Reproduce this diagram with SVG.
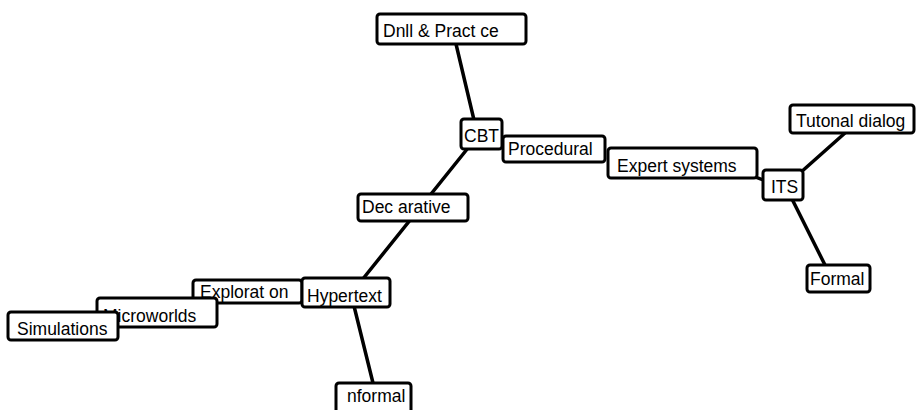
<svg xmlns="http://www.w3.org/2000/svg" width="916" height="410" viewBox="0 0 916 410">
  <style>
    .box { fill: #fff; stroke: #000; stroke-width: 3; }
    .lbl { font-family: "Liberation Sans", Arial, sans-serif; font-size: 17.5px; fill: #000; }
    .edge { stroke: #000; stroke-width: 3.5; fill: none; stroke-linecap: round; }
  </style>
  <rect width="916" height="410" fill="#fff"/>
  <g id="connectors">
    <line class="edge" x1="456" y1="44" x2="474" y2="120"/>
    <line class="edge" x1="468" y1="148" x2="362" y2="280"/>
    <line class="edge" x1="742" y1="172" x2="766" y2="181"/>
    <line class="edge" x1="800" y1="173" x2="845" y2="133"/>
    <line class="edge" x1="792" y1="199" x2="825" y2="265"/>
    <line class="edge" x1="354" y1="306" x2="373" y2="383"/>
  </g>
  <g id="drill">
    <rect class="box" x="377" y="14" width="149" height="30" rx="3"/>
    <text class="lbl" x="383" y="37">Dnll &amp; Pract ce</text>
  </g>
  <g id="cbt">
    <rect class="box" x="461" y="119" width="41" height="30" rx="3"/>
    <text class="lbl" x="464" y="142">CBT</text>
  </g>
  <g id="procedural">
    <rect class="box" x="503" y="136" width="102" height="26" rx="3"/>
    <text class="lbl" x="508" y="155">Procedural</text>
  </g>
  <g id="expert">
    <rect class="box" x="608" y="148" width="149" height="30" rx="3"/>
    <text class="lbl" x="617" y="172">Expert systems</text>
  </g>
  <g id="its">
    <rect class="box" x="763" y="170" width="40" height="30" rx="3"/>
    <text class="lbl" x="771" y="193">ITS</text>
  </g>
  <g id="tutorial">
    <rect class="box" x="790" y="105" width="124" height="28" rx="3"/>
    <text class="lbl" x="796" y="127">Tutonal dialog</text>
  </g>
  <g id="formal">
    <rect class="box" x="807" y="265" width="63" height="27" rx="3"/>
    <text class="lbl" x="810" y="285">Formal</text>
  </g>
  <g id="declarative">
    <rect class="box" x="358" y="194" width="110" height="27" rx="3"/>
    <text class="lbl" x="362" y="213">Dec arative</text>
  </g>
  <g id="exploration">
    <rect class="box" x="193" y="280" width="109" height="23" rx="3"/>
    <text class="lbl" x="200" y="298">Explorat on</text>
  </g>
  <g id="hypertext">
    <rect class="box" x="302" y="278" width="88" height="29" rx="3"/>
    <text class="lbl" x="307" y="302">Hypertext</text>
  </g>
  <g id="microworlds">
    <rect class="box" x="97" y="298" width="120" height="29" rx="3"/>
    <text class="lbl" x="103" y="322">Microworlds</text>
  </g>
  <g id="simulations">
    <rect class="box" x="8" y="312" width="110" height="28" rx="3"/>
    <text class="lbl" x="17" y="335">Simulations</text>
  </g>
  <g id="informal">
    <rect class="box" x="336" y="383" width="75" height="30" rx="3"/>
    <text class="lbl" x="347" y="402">nformal</text>
  </g>
</svg>
